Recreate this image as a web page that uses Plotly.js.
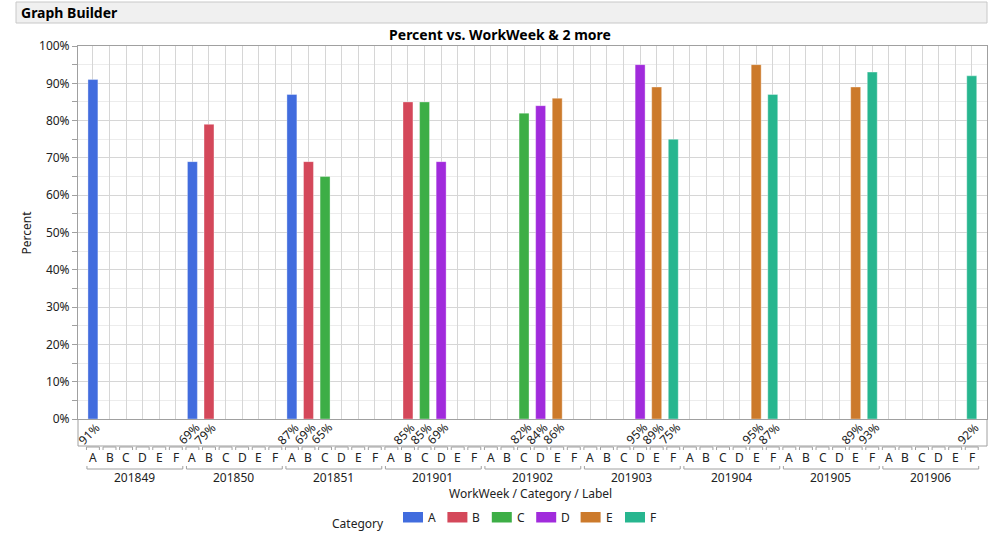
<!DOCTYPE html>
<html>
<head>
<meta charset="utf-8">
<script src="https://cdn.plot.ly/plotly-3.0.1.min.js"></script>
<style>
html,body{margin:0;padding:0;background:#fff;}
#chart{width:997px;height:539px;}
</style>
</head>
<body>
<div id="chart"></div>
<script>
// ---- data ----
const weeks = ['201849','201850','201851','201901','201902','201903','201904','201905','201906'];
const categories = ['A','B','C','D','E','F'];
const colors = ['#416CDE','#D4485A','#3DAE46','#A12BDC','#CC7A2B','#27B68F'];
// percent per category, one entry per week (null = no bar)
const valA = [91, 69, 87, null, null, null, null, null, null];
const valB = [null, 79, 69, 85, null, null, null, null, null];
const valC = [null, null, 65, 85, 82, null, null, null, null];
const valD = [null, null, null, 69, 84, 95, null, null, null];
const valE = [null, null, null, null, 86, 89, 95, 89, null];
const valF = [null, null, null, null, null, 75, 87, 93, 92];
const seriesVals = [valA, valB, valC, valD, valE, valF];

// ---- geometry helpers (pixel -> paper) ----
const W = 997, H = 539, L = 78, R = 987, T = 46, B0 = 419;
const pw = R - L, ph = B0 - T;
const px = p => (p - L) / pw;
const py = p => (B0 - p) / ph;
const nCat = categories.length;
const FONT = 'Noto Sans, Open Sans, sans-serif';
const TXT = '#222222';
const FRAME = '#a0a0a0';

const traces = [];
const annotations = [];
const shapes = [];

categories.forEach((c, ci) => {
  const xs = [], ys = [];
  seriesVals[ci].forEach((v, wi) => {
    if (v !== null) {
      const idx = wi * nCat + ci;
      xs.push(idx); ys.push(v);
      annotations.push({
        x: idx, xref: 'x', y: py(433.5), yref: 'paper',
        text: v + '%', textangle: -45, showarrow: false,
        xanchor: 'center', yanchor: 'middle', xshift: -3.5,
        font: {family: FONT, size: 12, color: TXT}
      });
    }
  });
  traces.push({
    type: 'bar', x: xs, y: ys, name: c, width: 0.6,
    marker: {color: colors[ci], line: {color: 'rgba(255,255,255,0.35)', width: 1}},
    showlegend: false, hoverinfo: 'x+y'
  });
});

// category letters and brackets
weeks.forEach((w, wi) => {
  categories.forEach((c, ci) => {
    const idx = wi * nCat + ci;
    annotations.push({
      x: idx, xref: 'x', y: py(457), yref: 'paper', text: c, showarrow: false,
      xanchor: 'center', yanchor: 'middle',
      font: {family: FONT, size: 12, color: TXT}
    });
    shapes.push({
      type: 'path', xref: 'x', yref: 'paper',
      path: `M ${idx - 0.39},${py(450)} L ${idx - 0.39},${py(447)} L ${idx + 0.39},${py(447)} L ${idx + 0.39},${py(450)}`,
      line: {color: FRAME, width: 1}
    });
  });
  const a = wi * nCat, b = wi * nCat + nCat - 1;
  annotations.push({
    x: (a + b) / 2, xref: 'x', y: py(477), yref: 'paper', text: w, showarrow: false,
    xanchor: 'center', yanchor: 'middle',
    font: {family: FONT, size: 12, color: TXT}
  });
  shapes.push({
    type: 'path', xref: 'x', yref: 'paper',
    path: `M ${a - 0.36},${py(466)} L ${a - 0.36},${py(469)} L ${b + 0.42},${py(469)} L ${b + 0.42},${py(466)}`,
    line: {color: FRAME, width: 1}
  });
});

// frame extension below the plot (label band)
shapes.push({type: 'line', xref: 'paper', yref: 'paper', x0: 0, x1: 0, y0: 0, y1: py(446), line: {color: FRAME, width: 1}});
shapes.push({type: 'line', xref: 'paper', yref: 'paper', x0: 1, x1: 1, y0: 0, y1: py(446), line: {color: FRAME, width: 1}});
shapes.push({type: 'line', xref: 'paper', yref: 'paper', x0: 0, x1: 1, y0: py(446), y1: py(446), line: {color: FRAME, width: 1}});

// header bar
shapes.push({type: 'rect', xref: 'paper', yref: 'paper', x0: px(16), x1: px(987), y0: py(23), y1: py(2),
  fillcolor: '#f0f0f0', line: {color: '#c8c8c8', width: 1}, layer: 'below'});
annotations.push({x: px(18.5), xref: 'paper', y: py(12.5), yref: 'paper', text: '<b>Graph Builder</b>',
  showarrow: false, xanchor: 'left', yanchor: 'middle', font: {family: FONT, size: 14, color: '#000'}});

// axis titles
annotations.push({x: px(26), xref: 'paper', y: 0.5, yref: 'paper', text: 'Percent', textangle: -90,
  showarrow: false, xanchor: 'center', yanchor: 'middle', font: {family: FONT, size: 12, color: TXT}});
annotations.push({x: px(530), xref: 'paper', y: py(494), yref: 'paper', text: 'WorkWeek / Category / Label',
  showarrow: false, xanchor: 'center', yanchor: 'middle', font: {family: FONT, size: 12, color: TXT}});

// legend
annotations.push({x: px(358), xref: 'paper', y: py(523), yref: 'paper', text: 'Category',
  showarrow: false, xanchor: 'center', yanchor: 'middle', font: {family: FONT, size: 12, color: TXT}});
categories.forEach((c, ci) => {
  const x0 = 403 + ci * 44.4;
  shapes.push({type: 'rect', xref: 'paper', yref: 'paper', x0: px(x0), x1: px(x0 + 20), y0: py(522.5), y1: py(512),
    fillcolor: colors[ci], line: {width: 0}});
  annotations.push({x: px(x0 + 23), xref: 'paper', y: py(517), yref: 'paper', text: c,
    showarrow: false, xanchor: 'left', yanchor: 'middle', font: {family: FONT, size: 12, color: TXT}});
});

const layout = {
  width: W, height: H,
  margin: {l: L, r: W - R, t: T, b: H - B0, pad: 0},
  paper_bgcolor: '#ffffff', plot_bgcolor: '#ffffff',
  font: {family: FONT, size: 12, color: TXT},
  title: {text: '<b>Percent vs. WorkWeek & 2 more</b>', x: 500 / W, xref: 'container', xanchor: 'center',
    y: 1 - 35 / H, yref: 'container', yanchor: 'middle', font: {family: FONT, size: 14, color: '#000'}},
  showlegend: false,
  bargap: 0,
  xaxis: {
    range: [-0.9, 53.92], tickmode: 'linear', tick0: 0, dtick: 1,
    showticklabels: false, ticks: '', showgrid: true, gridcolor: '#d6d6d6', gridwidth: 1,
    zeroline: false, showline: true, linecolor: FRAME, linewidth: 1, mirror: true, fixedrange: true
  },
  yaxis: {
    range: [0, 100], tickmode: 'linear', tick0: 0, dtick: 10, ticksuffix: '%',
    ticks: 'outside', ticklen: 5, tickcolor: FRAME, tickfont: {family: FONT, size: 12, color: TXT},
    showgrid: true, gridcolor: '#d6d6d6', gridwidth: 1, zeroline: false,
    showline: true, linecolor: FRAME, linewidth: 1, mirror: true,
    minor: {dtick: 5, tick0: 0, ticks: 'outside', ticklen: 5, tickcolor: FRAME, showgrid: true, gridcolor: '#ececec'},
    fixedrange: true
  },
  shapes: shapes,
  annotations: annotations
};

Plotly.newPlot('chart', traces, layout, {displayModeBar: false, staticPlot: true});
</script>
</body>
</html>
